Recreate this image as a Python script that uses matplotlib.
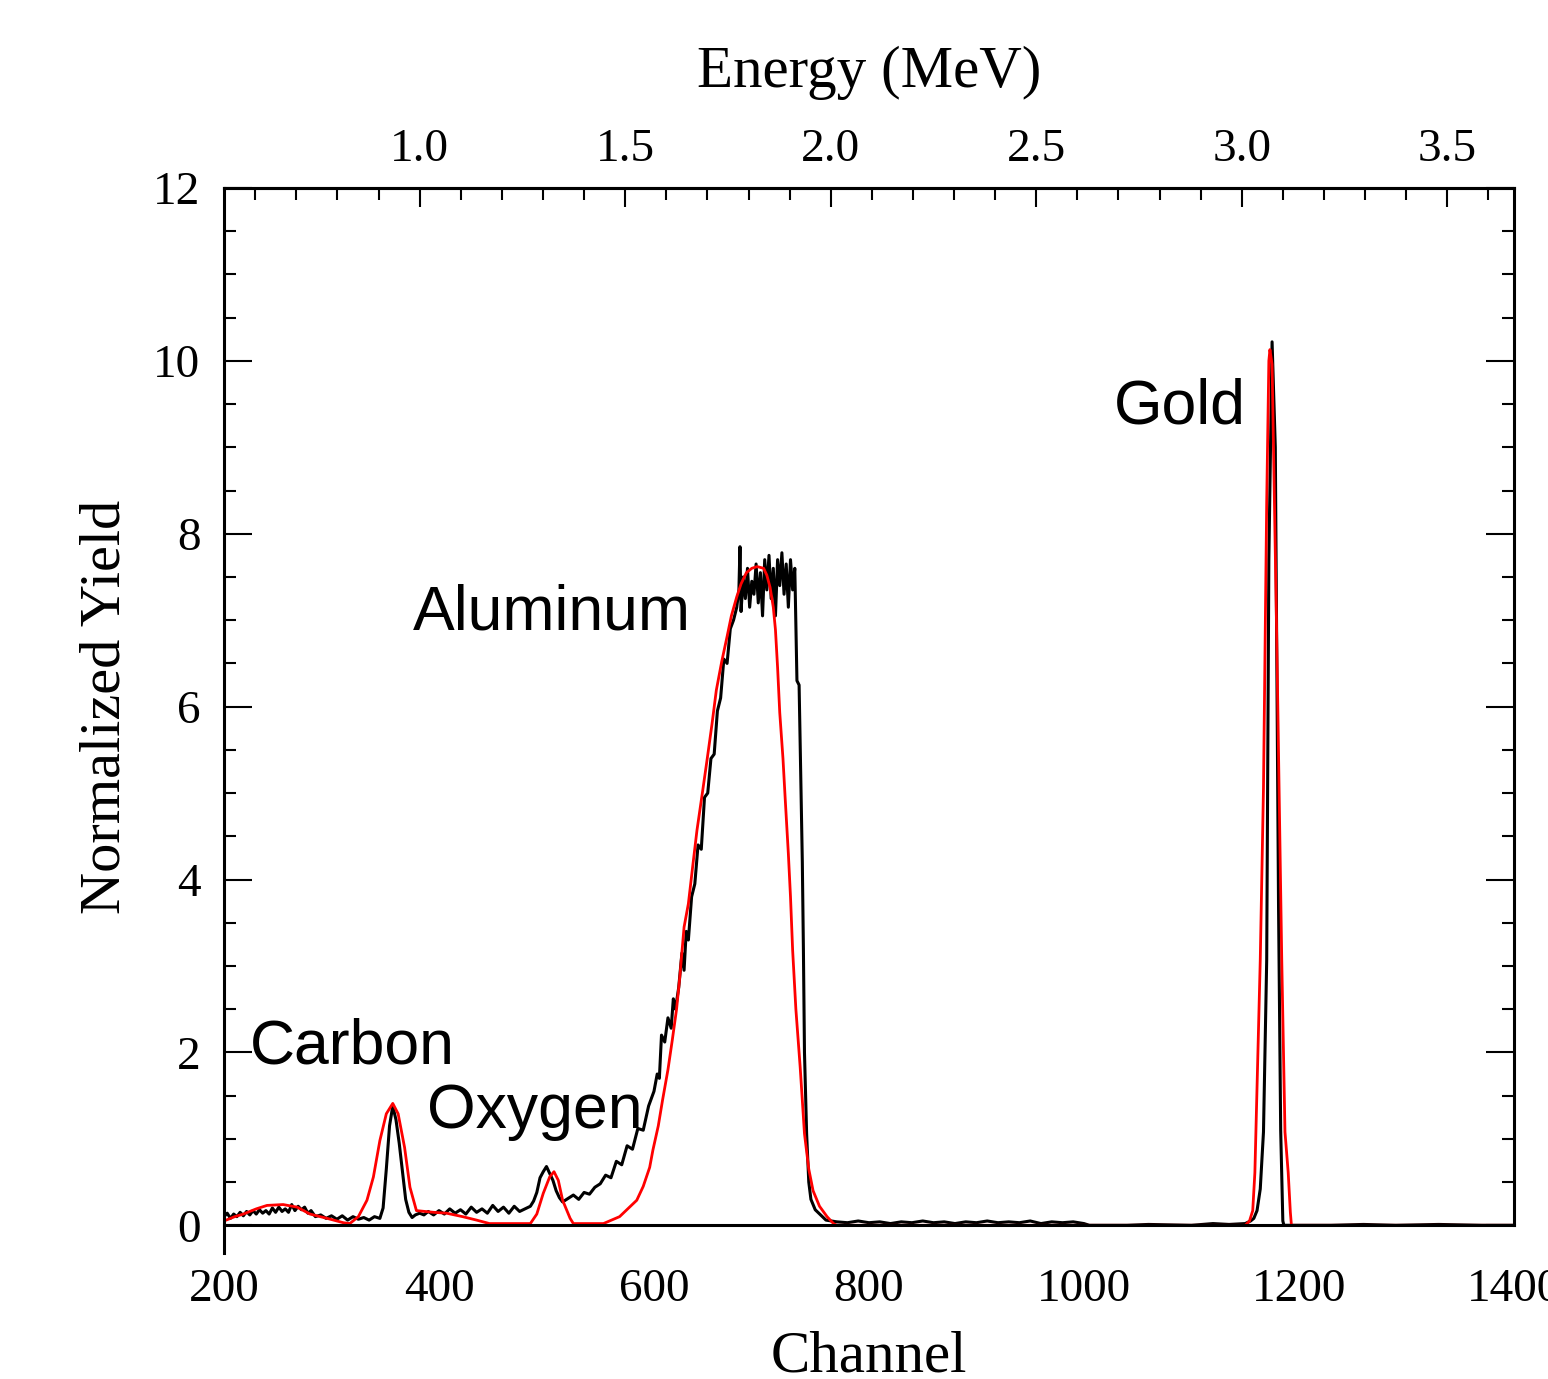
#!/usr/bin/env python3
"""RBS spectrum: measured vs simulated yield, with channel and energy axes."""
import matplotlib
matplotlib.use("Agg")
import matplotlib.pyplot as plt
from matplotlib.ticker import MultipleLocator, FormatStrFormatter

SERIF = ['Liberation Serif', 'DejaVu Serif']
SANS = ['Liberation Sans', 'DejaVu Sans']

meas_ch = [200, 203, 206, 209, 212, 215, 218, 221, 224, 227, 230, 233, 236, 239,
           242, 245, 248, 251, 254, 257, 260, 263, 266, 269, 272, 275, 278, 281,
           285, 290, 295, 300, 305, 310, 315, 320, 325, 330, 335, 340, 345, 348,
           351, 354, 357, 360, 363, 366, 369, 372, 375, 378, 382, 386, 390, 395,
           400, 405, 410, 415, 420, 425, 430, 435, 440, 445, 450, 455, 460, 465,
           470, 475, 480, 485, 488, 491, 494, 497, 500, 503, 506, 509, 512, 515,
           520, 525, 530, 535, 540, 545, 550, 555, 560, 565, 570, 575, 580, 585,
           590, 595, 600, 603, 605, 607, 610, 613, 616, 618, 620, 623, 626, 628,
           630, 632, 635, 638, 641, 644, 647, 650, 653, 656, 659, 662, 665, 668,
           671, 674, 677, 679, 680, 681, 683, 685, 687, 689, 691, 693, 695, 697,
           699, 701, 703, 705, 707, 709, 711, 713, 715, 717, 719, 721, 723, 725,
           727, 729, 731, 733, 735, 737, 738, 739, 740, 742, 744, 746, 750, 755,
           760, 770, 780, 790, 800, 810, 820, 830, 840, 850, 860, 870, 880, 890,
           900, 910, 920, 930, 940, 950, 960, 970, 980, 990, 1000, 1005, 1040,
           1060, 1100, 1120, 1135, 1150, 1155, 1158, 1161, 1164, 1167, 1170, 1172,
           1175, 1178, 1181, 1183, 1185, 1186, 1230, 1260, 1290, 1330, 1370, 1400]
meas_y = [0.10, 0.14, 0.08, 0.13, 0.10, 0.15, 0.11, 0.16, 0.12, 0.17, 0.13, 0.18,
          0.14, 0.17, 0.13, 0.20, 0.15, 0.21, 0.16, 0.19, 0.15, 0.24, 0.17, 0.22,
          0.18, 0.21, 0.14, 0.17, 0.10, 0.12, 0.08, 0.11, 0.07, 0.11, 0.06, 0.10,
          0.07, 0.09, 0.06, 0.10, 0.08, 0.20, 0.65, 1.15, 1.38, 1.22, 0.95, 0.62,
          0.30, 0.15, 0.09, 0.12, 0.14, 0.12, 0.16, 0.12, 0.17, 0.13, 0.19, 0.14,
          0.18, 0.13, 0.21, 0.15, 0.19, 0.14, 0.23, 0.16, 0.21, 0.14, 0.22, 0.16,
          0.19, 0.22, 0.28, 0.38, 0.55, 0.62, 0.68, 0.60, 0.52, 0.40, 0.32, 0.27,
          0.31, 0.35, 0.30, 0.38, 0.36, 0.44, 0.48, 0.58, 0.55, 0.74, 0.70, 0.92,
          0.88, 1.12, 1.10, 1.38, 1.55, 1.75, 1.70, 2.20, 2.12, 2.40, 2.28, 2.62,
          2.50, 2.75, 3.15, 2.95, 3.40, 3.30, 3.80, 3.95, 4.40, 4.35, 4.95, 5.00,
          5.40, 5.45, 5.95, 6.10, 6.55, 6.50, 6.90, 7.00, 7.15, 7.35, 7.85, 7.10,
          7.50, 7.25, 7.60, 7.15, 7.45, 7.30, 7.65, 7.20, 7.55, 7.05, 7.70, 7.35,
          7.75, 7.25, 7.60, 7.05, 7.70, 7.40, 7.78, 7.30, 7.65, 7.15, 7.70, 7.35,
          7.60, 6.30, 6.25, 4.90, 4.20, 3.20, 2.00, 1.06, 0.50, 0.30, 0.18, 0.12,
          0.06, 0.04, 0.03, 0.05, 0.03, 0.04, 0.02, 0.04, 0.03, 0.05, 0.03, 0.04,
          0.02, 0.04, 0.03, 0.05, 0.03, 0.04, 0.03, 0.05, 0.02, 0.04, 0.03, 0.04,
          0.02, 0.0, 0.0, 0.01, 0.0, 0.02, 0.01, 0.02, 0.05, 0.08, 0.17, 0.42,
          1.08, 3.07, 7.70, 10.22, 9.00, 3.70, 1.10, 0.05, 0.0, 0.0, 0.01, 0.0,
          0.01, 0.0, 0.0]

# simulated spectrum (red)
sim_ch = [200, 210, 218, 230, 240, 255, 268, 280, 296, 311, 317, 325, 333, 339,
          345, 351, 357, 362, 368, 373, 379, 395, 407, 422, 435, 447, 485, 491,
          497, 503, 507, 511, 515, 522, 525, 553, 568, 584, 590, 596, 599, 604,
          608, 613, 617, 621, 624, 628, 632, 636, 640, 645, 649, 654, 658, 663,
          668, 672, 677, 681, 686, 691, 696, 702, 705, 708, 711, 713, 715, 717,
          720, 722, 725, 727, 729, 732, 736, 740, 744, 748, 754, 761, 767, 770,
          1150, 1154, 1157, 1159, 1164, 1167, 1170, 1172, 1173, 1175, 1179, 1184,
          1187, 1190, 1192, 1193, 1400]
sim_y = [0.05, 0.10, 0.13, 0.19, 0.23, 0.24, 0.21, 0.13, 0.08, 0.03, 0.02, 0.10,
         0.29, 0.56, 0.98, 1.29, 1.41, 1.29, 0.90, 0.44, 0.17, 0.15, 0.14, 0.10,
         0.06, 0.02, 0.02, 0.13, 0.37, 0.56, 0.62, 0.52, 0.29, 0.08, 0.02, 0.02,
         0.10, 0.29, 0.45, 0.67, 0.87, 1.15, 1.45, 1.80, 2.14, 2.50, 2.87, 3.45,
         3.72, 4.15, 4.57, 5.00, 5.35, 5.80, 6.19, 6.52, 6.81, 7.05, 7.27, 7.42,
         7.55, 7.60, 7.62, 7.60, 7.52, 7.38, 7.15, 6.89, 6.45, 5.93, 5.40, 4.95,
         4.30, 3.80, 3.18, 2.50, 1.83, 1.06, 0.65, 0.40, 0.22, 0.10, 0.02, 0.0,
         0.0, 0.05, 0.17, 0.61, 3.07, 5.06, 8.37, 10.0, 10.13, 9.96, 7.05, 3.07,
         1.08, 0.61, 0.15, 0.0, 0.0]

labels = ['Carbon', 'Oxygen', 'Aluminum', 'Gold']
label_ch = [224, 389, 376, 1028]
label_y = [1.875, 1.13, 6.89, 9.28]

x_ticks = [200, 400, 600, 800, 1000, 1200, 1400]

# energy calibration (MeV per channel)
KEV_PER_CH = 0.002615
OFFSET = 0.001


def ch2e(ch):
    return ch * KEV_PER_CH + OFFSET


def e2ch(e):
    return (e - OFFSET) / KEV_PER_CH


fig = plt.figure(figsize=(15.48, 13.79), dpi=100)
ax = fig.add_axes([0.1447, 0.0914, 0.8333, 0.7723])

ax.plot(meas_ch, meas_y, color='black', lw=2.2)
ax.plot(sim_ch, sim_y, color='red', lw=2.0)

ax.set_xlim(200, 1400)
ax.set_ylim(-0.32, 12)

for sp in ax.spines.values():
    sp.set_linewidth(2.2)
ax.spines['bottom'].set_position(('data', 0))
ax.spines['right'].set_bounds(0, 12)

ax.set_xticks(x_ticks)
ax.tick_params(axis='x', bottom=True, top=False, length=0, pad=31, labelsize=34)
ax.yaxis.set_major_locator(MultipleLocator(2))
ax.yaxis.set_minor_locator(MultipleLocator(0.5))
ax.tick_params(axis='y', which='both', direction='in', left=True, right=True,
               width=1.5, labelsize=34, pad=17)
ax.tick_params(axis='y', which='major', length=20)
ax.tick_params(axis='y', which='minor', length=8.6)
for lab in ax.get_xticklabels() + ax.get_yticklabels():
    lab.set_family(SERIF)

ax.set_xlabel('Channel', fontsize=42.5, family=SERIF, labelpad=14)
ax.set_ylabel('Normalized Yield', fontsize=42, family=SERIF)
ax.yaxis.set_label_coords(-0.072, 0.513)

top = ax.secondary_xaxis('top', functions=(ch2e, e2ch))
top.xaxis.set_major_locator(MultipleLocator(0.5))
top.xaxis.set_minor_locator(MultipleLocator(0.1))
top.xaxis.set_major_formatter(FormatStrFormatter('%.1f'))
top.tick_params(which='both', direction='in', width=1.5, labelsize=34, pad=12)
top.tick_params(which='major', length=13.7)
top.tick_params(which='minor', length=8.6)
for lab in top.get_xticklabels():
    lab.set_family(SERIF)
top.set_xlabel('Energy (MeV)', fontsize=42.5, family=SERIF, labelpad=30)
top.spines['top'].set_linewidth(2.2)

for name, cx, cy in zip(labels, label_ch, label_y):
    ax.text(cx, cy, name, fontsize=45, family=SANS, ha='left', va='baseline')

fig.savefig('out.png', dpi=100)
